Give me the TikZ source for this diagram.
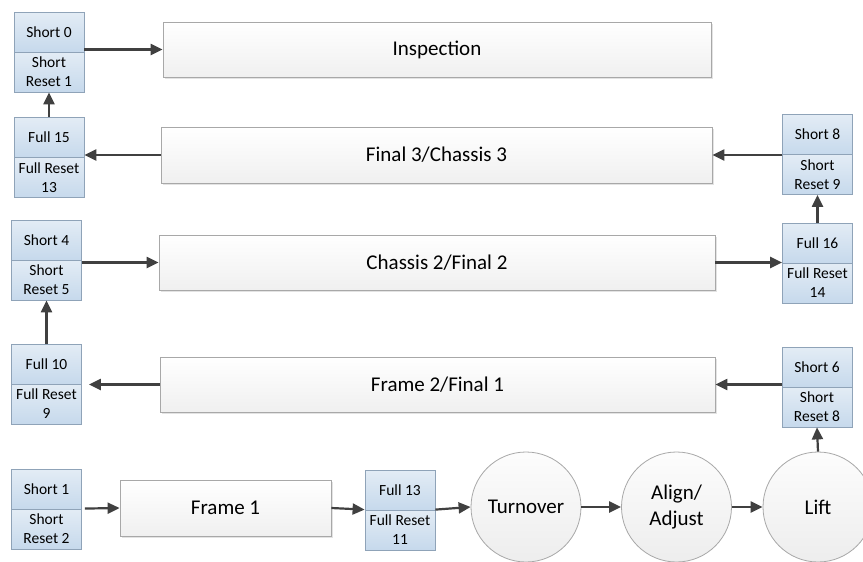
\documentclass[tikz,border=0pt]{standalone}
\usepackage{fontspec}
\setmainfont{Carlito}
\usetikzlibrary{arrows.meta,shadows}
\definecolor{cellline}{HTML}{8FA3B8}
\definecolor{celltop}{HTML}{E3ECF5}
\definecolor{cellbot}{HTML}{C6D9EC}
\definecolor{procline}{HTML}{A8A8A8}
\definecolor{arrowgray}{HTML}{404040}
\tikzset{
  cell/.style={draw=cellline, line width=0.8pt, top color=celltop, bottom color=cellbot,
    minimum width=70pt, minimum height=40pt, inner sep=0pt, align=center,
    font=\fontsize{15.5}{19}\selectfont},
  proc/.style={draw=procline, line width=0.8pt, top color=white, bottom color=black!6,
    inner sep=0pt, font=\fontsize{21}{24}\selectfont,
    drop shadow={shadow xshift=1.5pt, shadow yshift=-1.5pt, fill=black!18, opacity=0.6}},
  station/.style={circle, draw=procline, line width=0.8pt, top color=black!1, bottom color=black!7,
    minimum size=110pt, inner sep=0pt, align=center, font=\fontsize{21}{26}\selectfont},
  arr/.style={draw=arrowgray, line width=2.2pt, -{Triangle[length=12pt,width=11pt]}}
}
\begin{document}
\begin{tikzpicture}[x=1pt,y=-1pt]
\useasboundingbox (0,0) rectangle (863,562);
\clip (0,0) rectangle (863,562);
\fill[white] (0,0) rectangle (863,562);

% process bars
\node[proc, minimum width=548pt, minimum height=55pt] (insp) at (437,49.5) {Inspection};
\node[proc, minimum width=551pt, minimum height=56pt] (final3) at (436.5,155) {Final 3/Chassis 3};
\node[proc, minimum width=556pt, minimum height=55pt] (chassis2) at (437,262.5) {Chassis 2/Final 2};
\node[proc, minimum width=555pt, minimum height=55pt] (frame2) at (437.5,384.5) {Frame 2/Final 1};
\node[proc, minimum width=211pt, minimum height=56pt] (frame1) at (225.5,508) {Frame 1};

% counter stacks (upper cell / lower cell)
\node[cell] (s0a) at (49,32) {Short 0};
\node[cell] (s0b) at (49,72) {Short\\Reset 1};
\node[cell] (f15a) at (49,137.5) {Full 15};
\node[cell] (f15b) at (49,177.5) {Full Reset\\13};
\node[cell] (s8a) at (817.5,134.5) {Short 8};
\node[cell] (s8b) at (817.5,174.5) {Short\\Reset 9};
\node[cell] (f16a) at (817.5,243) {Full 16};
\node[cell] (f16b) at (817.5,283) {Full Reset\\14};
\node[cell] (s4a) at (46.5,240) {Short 4};
\node[cell] (s4b) at (46.5,280) {Short\\Reset 5};
\node[cell] (f10a) at (46.5,364) {Full 10};
\node[cell] (f10b) at (46.5,404) {Full Reset\\9};
\node[cell] (s6a) at (817,367) {Short 6};
\node[cell] (s6b) at (817,407) {Short\\Reset 8};
\node[cell] (s1a) at (46.5,489) {Short 1};
\node[cell] (s1b) at (46.5,529) {Short\\Reset 2};
\node[cell] (f13a) at (400,490) {Full 13};
\node[cell] (f13b) at (400,530) {Full Reset\\11};

% stations
\node[station] (turn) at (526,507) {Turnover};
\node[station] (align) at (676.5,507) {Align/\\Adjust};
\node[station] (lift) at (818,507) {Lift};

% flow
\draw[arr, shorten <=3pt] (s1b.north east) -- (frame1.west);
\draw[arr] (frame1.east) -- (f13b.north west);
\draw[arr] (f13b.north east) -- (turn.west);
\draw[arr] (turn.east) -- (align.west);
\draw[arr] (align.east) -- (lift.west);
\draw[arr] (lift.north) -- (s6b.south);
\draw[arr] (s6a.south west |- frame2.east) -- (frame2.east);
\draw[arr, shorten >=7pt] (frame2.west) -- (frame2.west -| f10a.east);
\draw[arr] (f10a.north) -- (s4b.south);
\draw[arr] (s4a.south east |- chassis2.west) -- (chassis2.west);
\draw[arr] (chassis2.east) -- (chassis2.east -| f16a.west);
\draw[arr] (f16a.north) -- (s8b.south);
\draw[arr] (s8a.south west |- final3.east) -- (final3.east);
\draw[arr] (final3.west) -- (final3.west -| f15a.east);
\draw[arr] (f15a.north) -- (s0b.south);
\draw[arr] (s0a.south east |- insp.west) -- (insp.west);
\end{tikzpicture}
\end{document}
